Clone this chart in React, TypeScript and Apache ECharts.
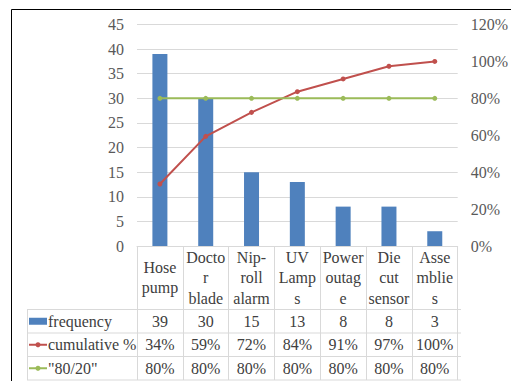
import React, { useEffect, useRef } from "react";
import * as echarts from "echarts";

const categories = ["Hose\npump", "Docto\nr\nblade", "Nip-\nroll\nalarm", "UV\nLamp\ns", "Power\noutag\ne", "Die\ncut\nsensor", "Asse\nmblie\ns"];
const frequency = [39, 30, 15, 13, 8, 8, 3];
const cumulative = [33.6, 59.4, 72.4, 83.6, 90.5, 97.4, 100];
const rule8020 = [80, 80, 80, 80, 80, 80, 80];
const seriesNames = ["frequency", "cumulative %", '"80/20"'];
const seriesColors = ["#4f81bd", "#c0504d", "#9bbb59"];

const FONT = "Liberation Serif";
const W = 511;
const H = 381;
const PLOT_L = 137;
const PLOT_R = 461;
const PLOT_T = 24.5;
const PLOT_B = 246;
const TABLE_L = 27;
const ROW_Y = [309.5, 333, 356.5, 380];

export default function App() {
  const ref = useRef<HTMLDivElement>(null);
  useEffect(() => {
    if (!ref.current) return;
    const chart = echarts.init(ref.current, undefined, { renderer: "svg" });
    const option: any = {
      animation: false,
      backgroundColor: "#ffffff",
      textStyle: { fontFamily: FONT },
      grid: { left: PLOT_L, right: W - PLOT_R, top: PLOT_T, bottom: H - PLOT_B, containLabel: false },
      xAxis: {
        type: "category",
        data: categories,
        boundaryGap: true,
        axisLine: { show: true, lineStyle: { color: "#d9d9d9", width: 1 } },
        axisTick: { show: true, interval: 0, length: H - 1 - PLOT_B, lineStyle: { color: "#d9d9d9", width: 1 } },
        axisLabel: {
          interval: 0,
          margin: 31.5,
          verticalAlign: "middle",
          fontFamily: FONT,
          fontSize: 16,
          lineHeight: 20.5,
          color: "#404040",
        },
      },
      yAxis: [
        {
          type: "value",
          min: 0,
          max: 45,
          interval: 5,
          axisLine: { show: false },
          axisTick: { show: false },
          splitLine: { lineStyle: { color: "#d9d9d9", width: 1 } },
          axisLabel: { margin: 13, fontFamily: FONT, fontSize: 16, color: "#595959" },
        },
        {
          type: "value",
          min: 0,
          max: 120,
          interval: 20,
          position: "right",
          axisLine: { show: false },
          axisTick: { show: false },
          splitLine: { show: false },
          axisLabel: { margin: 13, fontFamily: FONT, fontSize: 16, color: "#595959", formatter: "{value}%" },
        },
      ],
      series: [
        {
          name: seriesNames[0],
          type: "bar",
          data: frequency,
          barWidth: 15,
          itemStyle: { color: seriesColors[0] },
        },
        {
          name: seriesNames[1],
          type: "line",
          yAxisIndex: 1,
          data: cumulative,
          symbol: "circle",
          symbolSize: 5,
          lineStyle: { color: seriesColors[1], width: 2 },
          itemStyle: { color: seriesColors[1] },
        },
        {
          name: seriesNames[2],
          type: "line",
          yAxisIndex: 1,
          data: rule8020,
          symbol: "circle",
          symbolSize: 5,
          lineStyle: { color: seriesColors[2], width: 2 },
          itemStyle: { color: seriesColors[2] },
        },
      ],
    };
    chart.setOption(option);

    const rows = [
      frequency.map((v) => String(v)),
      cumulative.map((v) => Math.round(v) + "%"),
      rule8020.map((v) => v + "%"),
    ];
    const graphics: any[] = [];
    graphics.push({ type: "line", shape: { x1: 11.5, y1: 9.5, x2: W, y2: 9.5 }, style: { stroke: "#000", lineWidth: 1 } });
    graphics.push({ type: "line", shape: { x1: 11.5, y1: 9.5, x2: 11.5, y2: H }, style: { stroke: "#000", lineWidth: 1 } });
    ROW_Y.forEach((y) => {
      graphics.push({ type: "line", shape: { x1: TABLE_L, y1: y, x2: PLOT_R, y2: y }, style: { stroke: "#d9d9d9", lineWidth: 1 } });
    });
    graphics.push({ type: "line", shape: { x1: TABLE_L + 0.5, y1: ROW_Y[0], x2: TABLE_L + 0.5, y2: ROW_Y[3] }, style: { stroke: "#d9d9d9", lineWidth: 1 } });
    rows.forEach((row, r) => {
      const cy = (ROW_Y[r] + ROW_Y[r + 1]) / 2;
      const kx = 29;
      if (r === 0) {
        graphics.push({ type: "rect", shape: { x: kx, y: cy - 3.5, width: 18, height: 7 }, style: { fill: seriesColors[r] } });
      } else {
        graphics.push({ type: "line", shape: { x1: kx, y1: cy, x2: kx + 18, y2: cy }, style: { stroke: seriesColors[r], lineWidth: 2 } });
        graphics.push({ type: "circle", shape: { cx: kx + 9, cy, r: 2.5 }, style: { fill: seriesColors[r] } });
      }
      graphics.push({
        type: "text",
        x: kx + 19,
        y: cy,
        style: { text: seriesNames[r], fontFamily: FONT, fontSize: 16, fill: "#404040", align: "left", verticalAlign: "middle" },
      });
      row.forEach((txt, i) => {
        const cx = chart.convertToPixel({ xAxisIndex: 0 }, categories[i]) as number;
        graphics.push({
          type: "text",
          x: cx,
          y: cy,
          style: { text: txt, fontFamily: FONT, fontSize: 16, fill: "#404040", align: "center", verticalAlign: "middle" },
        });
      });
    });
    chart.setOption({ graphic: graphics });
    return () => chart.dispose();
  }, []);
  return (
    <div style={{ fontFamily: FONT }}>
      <div ref={ref} style={{ position: "fixed", left: 0, top: 0, width: W, height: H, background: "#fff" }} />
    </div>
  );
}
